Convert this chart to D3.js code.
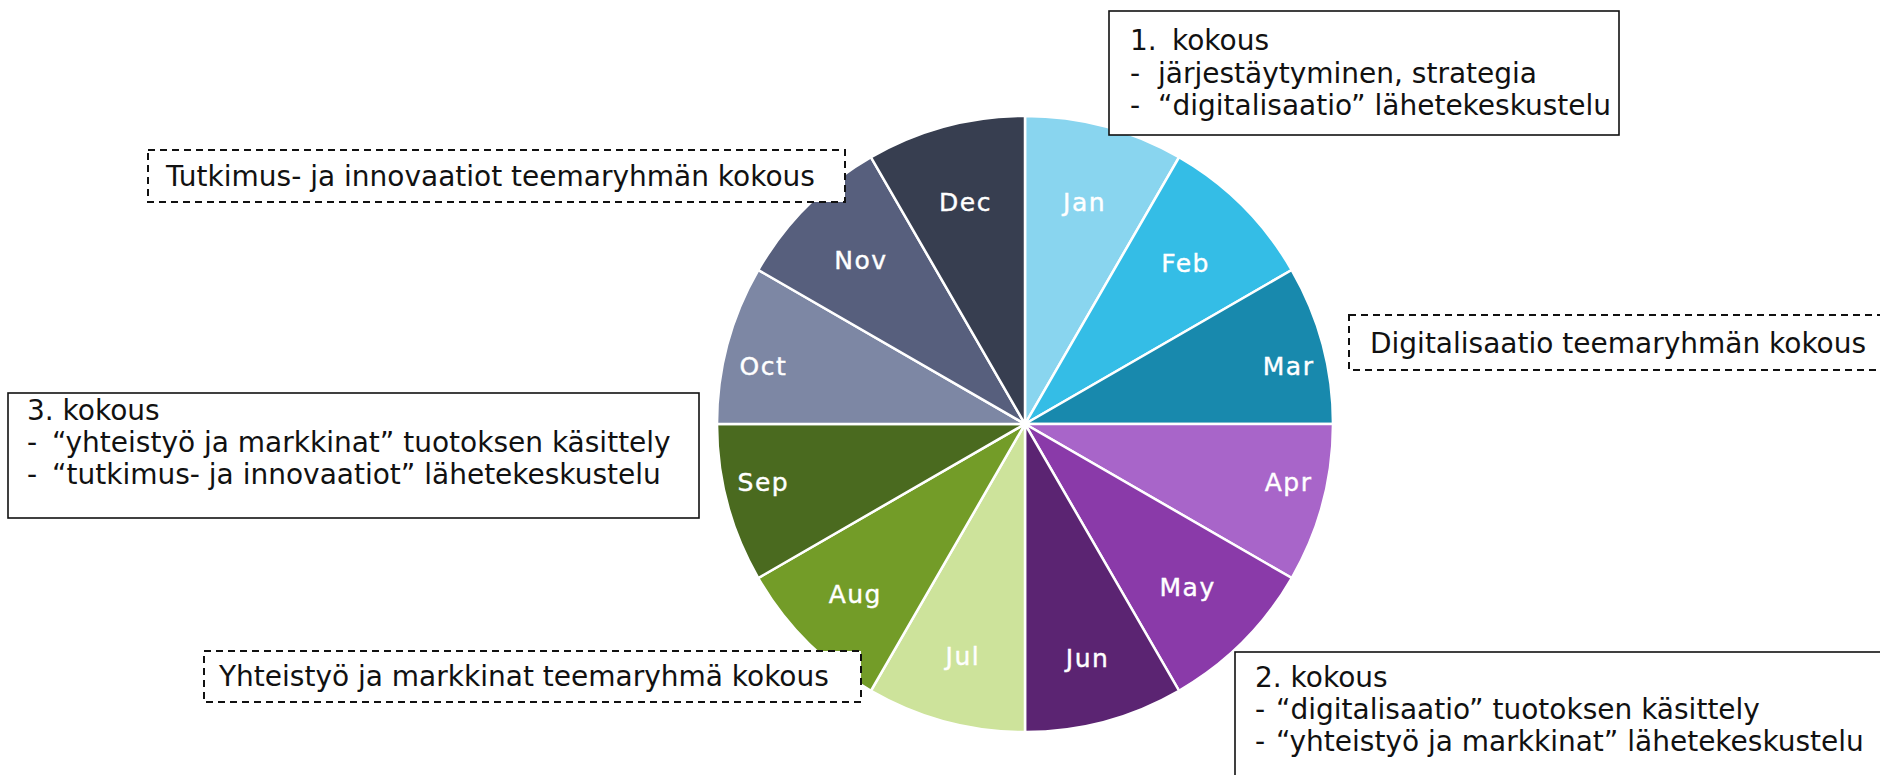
<!DOCTYPE html>
<html>
<head>
  <meta charset="utf-8">
  <title>Vuosikello</title>
  <script src="https://d3js.org/d3.v7.min.js"></script>
  <style>
    body { margin: 0; background: #fff; }
    .month { fill: #fff; stroke: #fff; stroke-width: 0.4px; font-family: "DejaVu Sans", sans-serif; font-size: 25px; letter-spacing: 1.5px; }
    .note { fill: #111; font-family: "DejaVu Sans", sans-serif; font-size: 28px; }
    .box { fill: #fff; stroke: #111; stroke-width: 1.6px; }
    .box.dashed { stroke-width: 2px; stroke-dasharray: 7 5; }
  </style>
</head>
<body>
  <svg id="chart" width="1880" height="775"></svg>
  <script>
    // months of the year clock, all of equal size
    var months = ["Jan", "Feb", "Mar", "Apr", "May", "Jun", "Jul", "Aug", "Sep", "Oct", "Nov", "Dec"];
    var monthValues = [1, 1, 1, 1, 1, 1, 1, 1, 1, 1, 1, 1];
    var monthColors = ["#89d5ef", "#34bde6", "#1889ad", "#a865c9", "#8a3aa9", "#5b2472",
                       "#cde39b", "#739c28", "#4a6a1f", "#7d87a4", "#575f7d", "#373e50"];

    // meeting notes (marker, text)
    var meeting1 = [["1.", "kokous"], ["-", "järjestäytyminen, strategia"], ["-", "“digitalisaatio” lähetekeskustelu"]];
    var meeting2 = [["", "2. kokous"], ["-", "“digitalisaatio” tuotoksen käsittely"], ["-", "“yhteistyö ja markkinat” lähetekeskustelu"]];
    var meeting3 = [["", "3. kokous"], ["-", "“yhteistyö ja markkinat” tuotoksen käsittely"], ["-", "“tutkimus- ja innovaatiot” lähetekeskustelu"]];
    var themeMeetings = ["Digitalisaatio teemaryhmän kokous", "Tutkimus- ja innovaatiot teemaryhmän kokous", "Yhteistyö ja markkinat teemaryhmä kokous"];

    // label placement inside the slices (distance from centre, angle nudge in degrees)
    var labelRadius = [230, 227, 270, 270, 230, 242, 240, 240, 268, 268, 232, 230];
    var labelNudge = [0, 0, 2.5, -2.5, 0, 0, 0, 0, 2.5, -2.5, 0, 0];

    var svg = d3.select("#chart");
    var cx = 1025, cy = 424, R = 308;

    var pie = d3.pie().sort(null).value(function (d) { return d; });
    var arc = d3.arc().innerRadius(0).outerRadius(R);

    var g = svg.append("g").attr("transform", "translate(" + cx + "," + cy + ")");
    var slices = pie(monthValues);

    g.selectAll("path")
      .data(slices)
      .enter()
      .append("path")
      .attr("d", arc)
      .attr("fill", function (d, i) { return monthColors[i]; })
      .attr("stroke", "#fff")
      .attr("stroke-width", 2.5);

    g.selectAll("text")
      .data(slices)
      .enter()
      .append("text")
      .attr("class", "month")
      .attr("transform", function (d, i) {
        var a = (d.startAngle + d.endAngle) / 2 + labelNudge[i] * Math.PI / 180;
        return "translate(" + labelRadius[i] * Math.sin(a) + "," + (-labelRadius[i] * Math.cos(a)) + ")";
      })
      .attr("text-anchor", "middle")
      .attr("dy", "0.36em")
      .text(function (d, i) { return months[i]; });

    // boxes with the notes
    function listBox(lines, box, markerX, textX, firstTextX, baselines) {
      svg.append("rect").attr("class", "box")
        .attr("x", box[0]).attr("y", box[1]).attr("width", box[2]).attr("height", box[3]);
      lines.forEach(function (l, i) {
        if (l[0]) {
          svg.append("text").attr("class", "note").attr("x", markerX).attr("y", baselines[i]).text(l[0]);
        }
        var x = l[0] ? (i === 0 ? firstTextX : textX) : markerX;
        svg.append("text").attr("class", "note").attr("x", x).attr("y", baselines[i]).text(l[1]);
      });
    }

    function dashBox(label, box, textX, baseline) {
      svg.append("rect").attr("class", "box dashed")
        .attr("x", box[0]).attr("y", box[1]).attr("width", box[2]).attr("height", box[3]);
      svg.append("text").attr("class", "note").attr("x", textX).attr("y", baseline).text(label);
    }

    listBox(meeting1, [1109, 11, 510, 124], 1130, 1158, 1172, [50, 83, 115]);
    listBox(meeting3, [8, 393, 691, 125], 27, 52, 52, [420, 452, 484]);
    listBox(meeting2, [1235, 652, 700, 200], 1255, 1276, 1276, [687, 719, 751]);

    dashBox(themeMeetings[0], [1349, 315, 560, 55], 1370, 353);
    dashBox(themeMeetings[1], [148, 150, 697, 52], 166, 186);
    dashBox(themeMeetings[2], [204, 651, 657, 51], 219, 686);
  </script>
</body>
</html>
